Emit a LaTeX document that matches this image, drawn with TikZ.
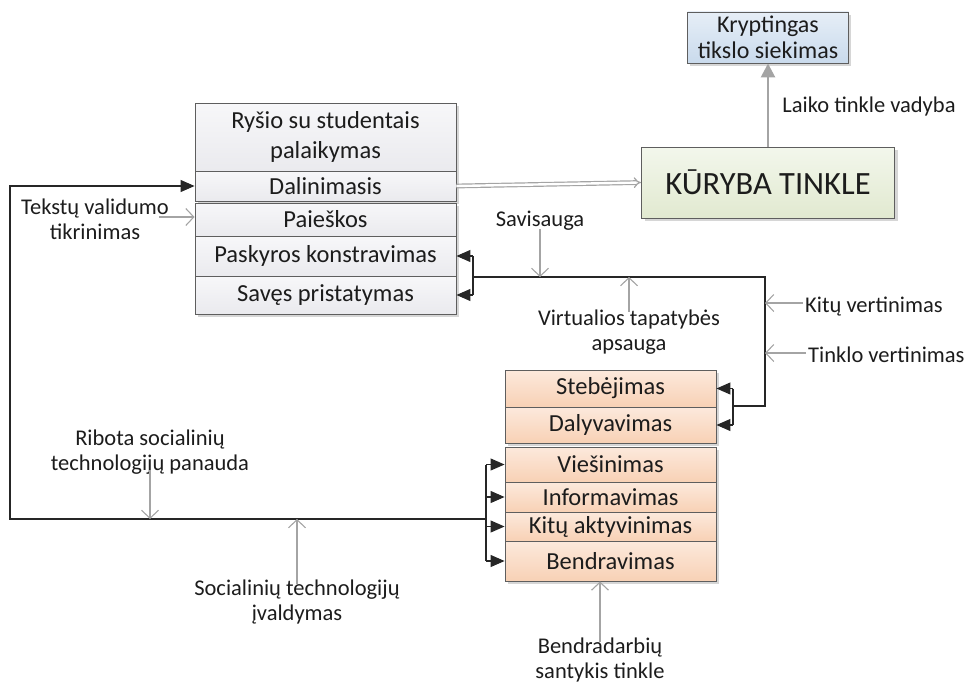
\documentclass[tikz,border=0pt]{standalone}
\usepackage{fontspec}
\setmainfont{Carlito}
\usetikzlibrary{arrows.meta,calc}

\definecolor{txt}{HTML}{1C1C1C}
\definecolor{edge}{HTML}{5E5E5E}
\definecolor{greyA}{HTML}{F7F7F9}
\definecolor{greyB}{HTML}{EAEAEE}
\definecolor{greenA}{HTML}{F3F7EC}
\definecolor{greenB}{HTML}{E1E9D0}
\definecolor{blueA}{HTML}{E6EEF7}
\definecolor{blueB}{HTML}{C9DAEC}
\definecolor{peachA}{HTML}{FCE9DC}
\definecolor{peachB}{HTML}{F8D1B5}
\definecolor{lead}{HTML}{A4A4A4}
\definecolor{shade}{HTML}{D6D6D6}

\newcommand\boxfont{\fontsize{24.5}{30}\selectfont}
\newcommand\lblfont{\fontsize{22.5}{25}\selectfont}
\newcommand\bigfont{\fontsize{32.5}{38}\selectfont}

\tikzset{
  cell/.style={draw=edge, line width=0.9pt, inner sep=0pt, text=txt,
               font=\boxfont, align=center},
  greycell/.style={cell, top color=greyA, bottom color=greyB, minimum width=261pt},
  peachcell/.style={cell, top color=peachA, bottom color=peachB, minimum width=211pt},
  lbl/.style={text=txt, font=\lblfont, align=center, inner sep=0pt},
  blk/.style={draw=black!85, line width=1.1pt},
  blkarrow/.style={blk, -{Triangle[length=14pt,width=12pt]}},
  leader/.style={draw=lead, line width=1.4pt,
                 -{Straight Barb[length=8pt,width=17pt,line width=1.1pt]}},
  groupshadow/.style={fill=shade, draw=none},
}

\begin{document}
\begin{tikzpicture}[x=1pt,y=-1pt]
\useasboundingbox (0,0) rectangle (965,685);

% soft drop shadows behind the box groups
\fill[groupshadow] (198,106) rectangle (459,204);
\fill[groupshadow] (198,206) rectangle (459,317);
\fill[groupshadow] (645,150) rectangle (898,221);
\fill[groupshadow] (690,15) rectangle (851,66);
\fill[groupshadow] (508,373) rectangle (719,446);
\fill[groupshadow] (508,450) rectangle (719,584);

% left column of activities
\node[greycell, minimum height=68pt] (ryso) at (325.5,137) {Ryšio su studentais\\palaikymas};
\node[greycell, minimum height=30pt] (dal)   at (325.5,186) {Dalinimasis};
\node[greycell, minimum height=33pt] (paies) at (325.5,219.5) {Paieškos};
\node[greycell, minimum height=40pt] (pask)  at (325.5,256) {Paskyros konstravimas};
\node[greycell, minimum height=38pt] (saves) at (325.5,295) {Savęs pristatymas};

% creation and goal boxes
\node[cell, top color=greenA, bottom color=greenB, minimum width=253pt,
      minimum height=71pt, font=\bigfont] (kur) at (768,182.5) {KŪRYBA TINKLE};
\node[cell, top color=blueA, bottom color=blueB, minimum width=161pt,
      minimum height=51pt, font=\fontsize{24}{26}\selectfont] (kryp) at (768,37.5)
      {Kryptingas\\tikslo siekimas};

% right column of activities
\node[peachcell, minimum height=37pt] (steb) at (610.5,388.5) {Stebėjimas};
\node[peachcell, minimum height=36pt] (daly) at (610.5,425) {Dalyvavimas};
\node[peachcell, minimum height=35pt] (vies) at (610.5,464.5) {Viešinimas};
\node[peachcell, minimum height=30pt] (info) at (610.5,497) {Informavimas};
\node[peachcell, minimum height=29pt] (kitu) at (610.5,526.5) {Kitų aktyvinimas};
\node[peachcell, minimum height=40pt] (bend) at (610.5,561) {Bendravimas};

% labels
\node[lbl] (lLaiko) at (869,107) {Laiko tinkle vadyba};
\node[lbl] (lTekst) at (95,219) {Tekstų validumo\\tikrinimas};
\node[lbl] (lSav)   at (540,221) {Savisauga};
\node[lbl] (lVirt)  at (629,332) {Virtualios tapatybės\\apsauga};
\node[lbl, anchor=west] (lKitu) at (805,307) {Kitų vertinimas};
\node[lbl, anchor=west] (lTink) at (808,355) {Tinklo vertinimas};
\node[lbl] (lRib)   at (150,452) {Ribota socialinių\\technologijų panauda};
\node[lbl] (lSoc)   at (297,602) {Socialinių technologijų\\įvaldymas};
\node[lbl] (lBend)  at (600,660) {Bendradarbių\\santykis tinkle};

% routing points of the feedback lines
\coordinate (jt) at (473,277);
\coordinate (rc) at (765,277);
\coordinate (rb) at (765,406);
\coordinate (jr) at (733,406);
\coordinate (jl) at (486,519);
\coordinate (lb) at (10,519);

% creation path
\draw[draw=lead, line width=1.2pt, double=white, double distance=2.4pt,
      -{Implies[length=10pt,width=18pt]}] (dal.east) -- (kur.west);
\draw[draw=lead, line width=2.6pt, -{Triangle[length=14pt,width=14pt]}]
      (kur.north) -- (kryp.south);

% identity loop: observation/participation back to account and self-presentation
\draw[blk] (jt) -- (rc) -- (rb) -- (jr);
\draw[blk] (pask.east -| jt) -- (saves.east -| jt);
\draw[blkarrow] (pask.east -| jt) -- (pask.east);
\draw[blkarrow] (saves.east -| jt) -- (saves.east);
\draw[blk] (steb.east -| jr) -- (daly.east -| jr);
\draw[blkarrow] (steb.east -| jr) -- (steb.east);
\draw[blkarrow] (daly.east -| jr) -- (daly.east);

% sharing loop: communication activities back to sharing
\draw[blkarrow] (jl) -- (lb) -- (lb |- dal.west) -- (dal.west);
\draw[blk] (vies.west -| jl) -- (bend.west -| jl);
\draw[blkarrow] (vies.west -| jl) -- (vies.west);
\draw[blkarrow] (info.west -| jl) -- (info.west);
\draw[blkarrow] (kitu.west -| jl) -- (kitu.west);
\draw[blkarrow] (bend.west -| jl) -- (bend.west);

% influencing factors
\draw[leader] ([xshift=-10pt,yshift=2pt]lTekst.east) -- ([yshift=2pt]lTekst.east -| paies.west);
\draw[leader] ([yshift=2pt]lSav.south) -- (lSav.south |- jt);
\draw[leader] ([yshift=-2pt]lVirt.north) -- (lVirt.north |- jt);
\draw[leader] ([xshift=-2pt,yshift=4pt]lKitu.west) -- ([yshift=4pt]lKitu.west -| rc);
\draw[leader] ([xshift=-2pt,yshift=2pt]lTink.west) -- ([yshift=2pt]lTink.west -| rc);
\draw[leader] ([yshift=4pt]lRib.south) -- (lRib.south |- lb);
\draw[leader] ([yshift=-4pt]lSoc.north) -- (lSoc.north |- lb);
\draw[leader] ([yshift=-4pt]lBend.north) -- (lBend.north |- bend.south);
\end{tikzpicture}
\end{document}
